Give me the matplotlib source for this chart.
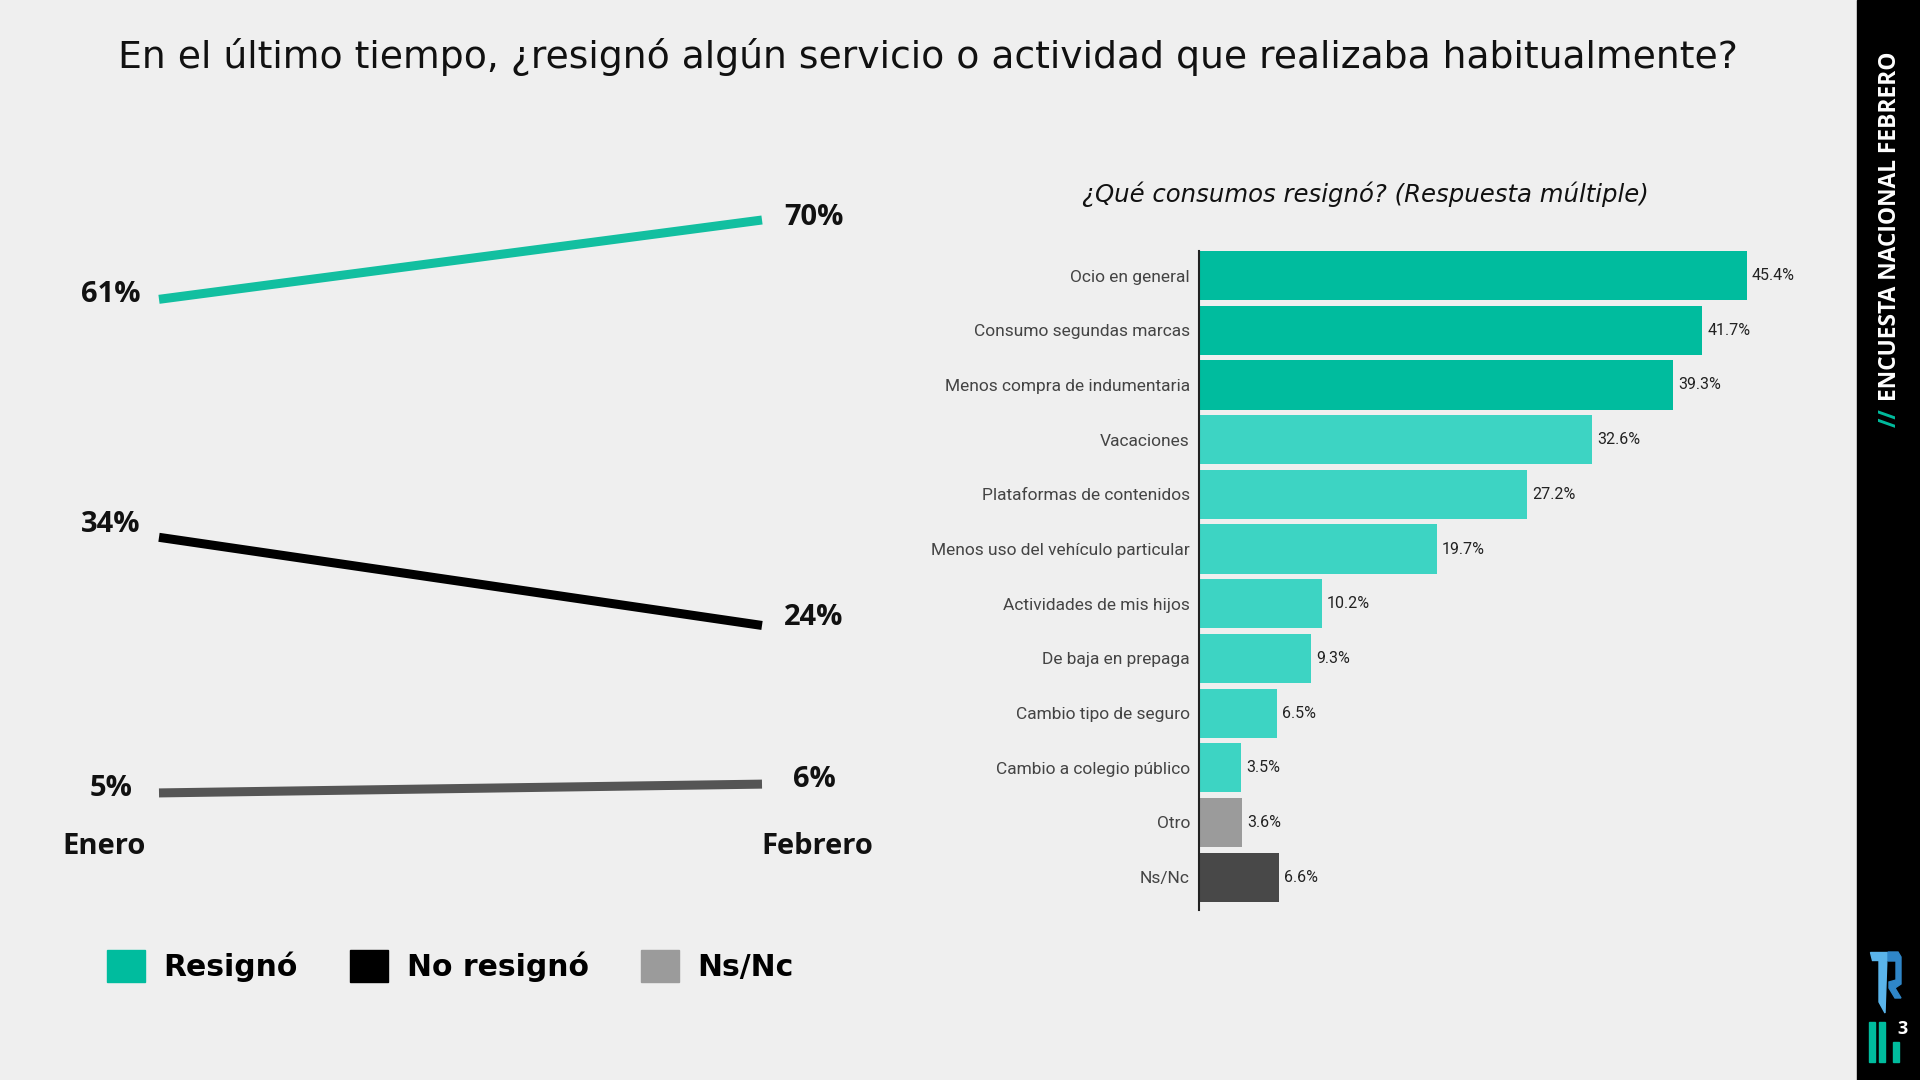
import matplotlib.pyplot as plt
from matplotlib.patches import Rectangle, Polygon, Patch

plt.rcParams['font.family'] = ['Open Sans', 'DejaVu Sans']

# --- datos ---
meses = ["Enero", "Febrero"]
resigno = [61, 70]
no_resigno = [34, 24]
ns_nc = [5, 6]

consumos = ["Ocio en general", "Consumo segundas marcas", "Menos compra de indumentaria",
            "Vacaciones", "Plataformas de contenidos", "Menos uso del vehículo particular",
            "Actividades de mis hijos", "De baja en prepaga", "Cambio tipo de seguro",
            "Cambio a colegio público", "Otro", "Ns/Nc"]
porcentajes = [45.4, 41.7, 39.3, 32.6, 27.2, 19.7, 10.2, 9.3, 6.5, 3.5, 3.6, 6.6]

BG = '#efefef'
VERDE = '#00bc9e'
TURQ = '#3dd4c3'
colores_barras = [VERDE] * 3 + [TURQ] * 7 + ['#9b9b9b', '#484848']

W, H = 1920, 1080
fig = plt.figure(figsize=(19.2, 10.8), dpi=100, facecolor=BG)
r = fig.canvas.get_renderer()

def px(x0, y0, x1, y1):
    # rectangulo en pixeles -> coordenadas de figura
    return [x0 / W, 1 - y1 / H, (x1 - x0) / W, (y1 - y0) / H]

# capa de fondo para textos y decoraciones
deco = fig.add_axes([0, 0, 1, 1], zorder=0)
deco.set_xlim(0, W)
deco.set_ylim(H, 0)
deco.axis('off')

deco.text(928, 57, "En el último tiempo, ¿resignó algún servicio o actividad que realizaba habitualmente?",
          ha='center', va='center', fontsize=27.2, color='#111111', family='DejaVu Sans')
deco.text(1365, 194, "¿Qué consumos resignó? (Respuesta múltiple)",
          ha='center', va='center', fontsize=17.6, style='italic', color='#111111',
          family='DejaVu Sans')

# barra lateral
deco.add_patch(Rectangle((1857, 0), 63, H, color='black'))
barras_txt = deco.text(1890, 427, "//", rotation=90, ha='center', va='bottom',
                       fontsize=16.4, fontweight='bold', color=VERDE)
bb = barras_txt.get_window_extent(r)
deco.text(1890, H - bb.y1 - 7, "ENCUESTA NACIONAL FEBRERO", rotation=90, ha='center', va='bottom',
          fontsize=16.4, fontweight='bold', color='white')

# logo
deco.add_patch(Polygon([(1870, 952), (1887, 952), (1887, 960), (1872, 960)], color='#5ab4ea'))
deco.add_patch(Polygon([(1879, 956), (1887, 956), (1885, 1013), (1879, 1002)], color='#5ab4ea'))
deco.add_patch(Polygon([(1888, 952), (1898, 952), (1901, 957), (1901, 984), (1895, 988),
                        (1901, 998), (1895, 998), (1889, 988), (1889, 982), (1896, 980),
                        (1896, 961), (1888, 961)], color='#2f86c8'))
deco.add_patch(Rectangle((1869, 1022), 6, 40, color=VERDE))
deco.add_patch(Rectangle((1879, 1022), 6, 40, color=VERDE))
deco.add_patch(Rectangle((1893, 1042), 6, 20, color=VERDE))
deco.text(1903, 1029, "3", ha='center', va='center', fontsize=13, fontweight='bold', color='white')

# --- grafico de lineas ---
ax1 = fig.add_axes(px(159, 220, 762, 837), zorder=2)
ax1.set_facecolor('none')
x = list(range(len(meses)))
series = [(resigno, '#12bfa0', [(-48, 5), (52, 3)]),
          (no_resigno, 'black', [(-48, 13), (52, 8)]),
          (ns_nc, '#555555', [(-48, 4), (52, 5)])]
for vals, col, offs in series:
    ax1.plot(x, vals, color=col, lw=6.5, solid_capstyle='butt', clip_on=False)
    for i, v in enumerate(vals):
        ax1.annotate(f"{v}%", (x[i], v), xytext=offs[i], textcoords='offset pixels',
                     ha='center', va='center', fontsize=21, fontweight='bold', color='#111111')
for i, m in enumerate(meses):
    ax1.annotate(m, (x[i], 0), xytext=(-55 if i == 0 else 55, -10), textcoords='offset pixels',
                 ha='center', va='center', fontsize=21, fontweight='bold', color='#111111')
ax1.set_xlim(0, 1)
ax1.set_ylim(0, 70)
ax1.axis('off')

handles = [Patch(color=VERDE, label='Resignó'),
           Patch(color='black', label='No resignó'),
           Patch(color='#9b9b9b', label='Ns/Nc')]
fig.legend(handles=handles, loc='center left', bbox_to_anchor=(107 / W, 1 - 966 / H), ncol=3,
           frameon=False, borderpad=0, borderaxespad=0, handlelength=1.27, handleheight=1.27,
           handletextpad=0.62, columnspacing=1.75,
           prop={'size': 21.5, 'weight': 'bold', 'family': 'DejaVu Sans'})

# --- grafico de barras ---
ax2 = fig.add_axes(px(1199, 251, 1199 + 603.5, 910), zorder=2)
ax2.set_facecolor('none')
y = list(range(len(consumos)))
ax2.barh(y, porcentajes, height=0.9, color=colores_barras, linewidth=0)
for yi, v in zip(y, porcentajes):
    ax2.annotate(f"{v}%", (v, yi), xytext=(5, 0), textcoords='offset pixels',
                 ha='left', va='center', fontsize=11.5, color='#222222', family='Roboto')
ax2.set_yticks(y, consumos)
ax2.set_xlim(0, 50)
ax2.set_ylim(11.6, -0.45)
ax2.set_xticks([])
for s in ['top', 'right', 'bottom']:
    ax2.spines[s].set_visible(False)
ax2.spines['left'].set_color('#222222')
ax2.spines['left'].set_linewidth(1.5)
ax2.tick_params(axis='y', length=0, pad=6.5, labelsize=12.5, labelcolor='#444444')
for lbl in ax2.get_yticklabels():
    lbl.set_family('Roboto')

fig.savefig('out.png', dpi=100, facecolor=BG)
